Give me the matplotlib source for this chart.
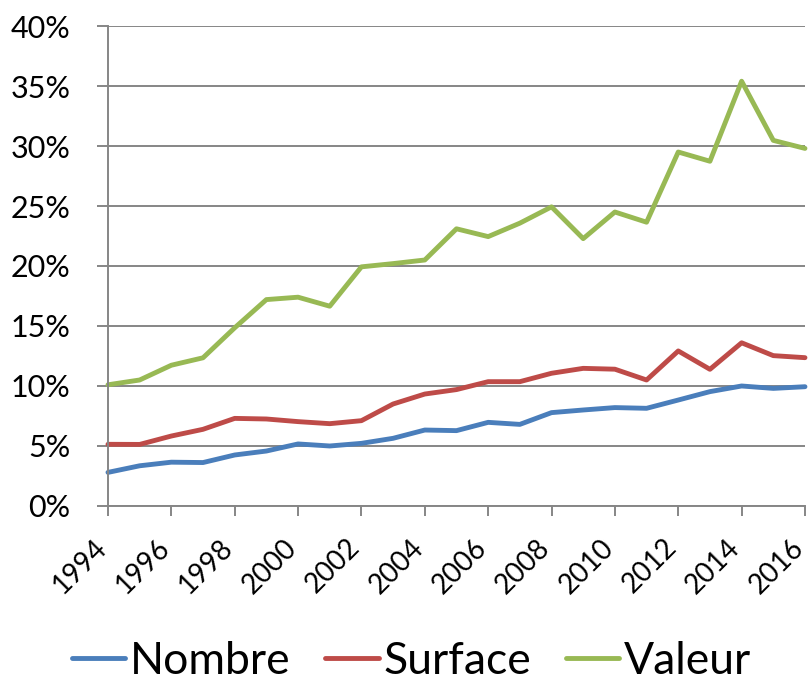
import matplotlib
matplotlib.use('Agg')
import matplotlib.pyplot as plt
import matplotlib.transforms as mtransforms
from matplotlib.ticker import FuncFormatter, MultipleLocator

plt.rcParams['font.family'] = ['Lato', 'DejaVu Sans']

years = list(range(1994, 2017))
nombre = [2.8, 3.35, 3.65, 3.62, 4.25, 4.58, 5.17, 5.0, 5.22, 5.64, 6.33, 6.28,
          6.97, 6.8, 7.78, 8.0, 8.2, 8.14, 8.83, 9.53, 10.0, 9.8, 9.94]
surface = [5.14, 5.13, 5.83, 6.39, 7.3, 7.25, 7.03, 6.86, 7.11, 8.5, 9.33, 9.7,
           10.36, 10.36, 11.06, 11.47, 11.4, 10.5, 12.92, 11.39, 13.6, 12.53, 12.36]
valeur = [10.1, 10.5, 11.73, 12.35, 14.85, 17.2, 17.4, 16.65, 19.93, 20.2, 20.5, 23.1,
          22.45, 23.57, 24.93, 22.28, 24.5, 23.65, 29.5, 28.73, 35.4, 30.47, 29.8]

series = [('Nombre', nombre, '#4A7EBB'),
          ('Surface', surface, '#BE4B48'),
          ('Valeur', valeur, '#98B954')]

GRID = '#868686'

fig = plt.figure(figsize=(8.1, 6.81), dpi=100)
ax = fig.add_axes([0.1333, 0.257, 0.8605, 0.7048])

for name, vals, col in series:
    ax.plot(years, vals, color=col, linewidth=3.5, label=name,
            solid_joinstyle='round', solid_capstyle='round', clip_on=False)

ax.set_xlim(1994, 2016)
ax.set_ylim(0, 40)
ax.yaxis.set_major_locator(MultipleLocator(5))
ax.yaxis.set_major_formatter(FuncFormatter(lambda v, p: f'{v:.0f}%'))
ax.set_xticks(years[::2])
ax.set_xticklabels([str(y) for y in years[::2]], rotation=45, ha='right',
                   va='baseline', rotation_mode='anchor')

# nudge the slanted year labels a few pixels right, like the original
shift = mtransforms.ScaledTranslation(0.03, 0, fig.dpi_scale_trans)
for lab in ax.get_xticklabels():
    lab.set_transform(lab.get_transform() + shift)

ax.grid(axis='y', color=GRID, linewidth=1.4)
ax.set_axisbelow(True)
for s in ['top', 'right']:
    ax.spines[s].set_visible(False)
for s in ['left', 'bottom']:
    ax.spines[s].set_color(GRID)
    ax.spines[s].set_linewidth(1.4)

ax.tick_params(axis='y', colors=GRID, labelcolor='black', labelsize=22,
               length=8, width=1.4, pad=19)
ax.tick_params(axis='x', colors=GRID, labelcolor='black', labelsize=20,
               length=7, width=1.4, pad=24)

fig.legend(loc='center', bbox_to_anchor=(0.508, 0.029), ncol=3, frameon=False,
           fontsize=32, handlelength=1.2, handletextpad=0.1, columnspacing=0.79,
           borderaxespad=0)

fig.savefig('out.png', dpi=100)
